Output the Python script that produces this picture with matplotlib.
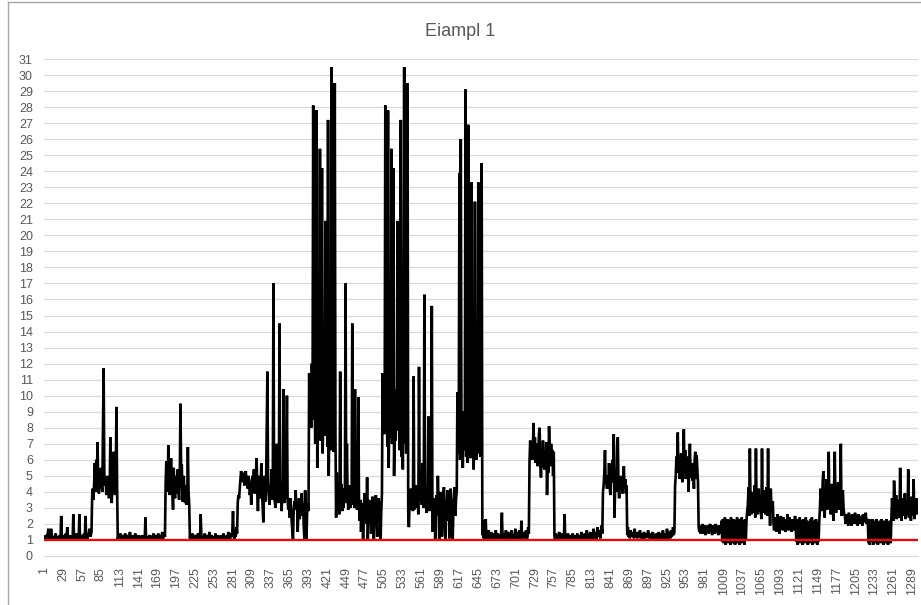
import numpy as np
import matplotlib
matplotlib.use('Agg')
import matplotlib.pyplot as plt
from matplotlib.lines import Line2D

plt.rcParams['font.family'] = ['Liberation Sans', 'DejaVu Sans']

# values, segment by segment (index 1 .. 1296)
low1 = [1.1, 1.0, 1.3, 1.2, 1.0, 1.4, 1.7, 1.1, 1.0, 1.2, 1.7, 1.3, 1.0, 1.1, 1.2, 1.0, 1.3, 1.4, 1.1, 1.0,
        1.2, 1.1, 1.0, 1.3, 1.1, 2.5, 1.2, 1.0, 1.1, 1.3, 1.0, 1.2, 1.4, 1.1, 1.8, 1.2, 1.0, 1.1, 1.3, 1.0,
        1.2, 1.1, 1.0, 2.6, 1.3, 1.1, 1.0, 1.2, 1.4, 1.1, 1.0, 1.2, 2.6, 1.1, 1.0, 1.3, 1.2, 1.0, 1.1, 1.4,
        1.0, 2.5, 1.2, 1.0, 1.1, 1.3, 1.4, 1.7, 1.2, 1.3, 1.5]
hump1 = [3.8, 4.2, 3.5, 4.6, 5.8, 4.0, 6.0, 5.0, 7.1, 4.3, 3.9, 4.8, 4.2, 5.5, 4.5, 4.0, 8.0, 11.7, 5.2, 4.4,
         4.8, 3.8, 4.6, 5.0, 4.2, 3.6, 4.4, 7.4, 5.0, 3.3, 4.6, 5.5, 6.5, 4.4, 3.8, 5.0, 9.3, 4.2]
low2 = [1.0, 1.3, 1.2, 1.1, 1.4, 1.0, 1.2, 1.3, 1.1, 1.0, 1.2, 1.4, 1.1, 1.0, 1.3, 1.2, 1.0, 1.1, 1.5, 1.2,
        1.0, 1.1, 1.3, 1.0, 1.2, 1.1, 1.4, 1.0, 1.1, 1.2, 1.0, 1.3, 1.1, 1.0, 1.2, 1.1, 1.3, 1.0, 1.1, 1.2,
        1.0, 2.4, 1.1, 1.0, 1.2, 1.1, 1.0, 1.3, 1.2, 1.0, 1.1, 1.0, 1.2, 1.4, 1.1, 1.0, 1.2, 1.3, 1.0, 1.1,
        1.4, 1.2, 1.0, 1.3, 1.1, 1.2, 1.5, 1.0, 1.3, 1.4, 1.2]
hump2 = [4.5, 5.9, 4.8, 4.0, 6.9, 5.0, 3.8, 4.4, 6.1, 4.6, 4.0, 2.9, 5.5, 4.2, 3.6, 5.0, 4.5, 3.9, 5.4, 4.0,
         3.5, 4.8, 9.5, 5.2, 5.7, 3.4, 4.6, 5.0, 3.6, 3.3, 4.4, 3.2, 3.5, 6.8, 4.0, 3.2]
low3 = [1.1, 1.3, 1.0, 1.2, 1.4, 1.1, 1.0, 1.3, 1.2, 1.1, 1.0, 1.2, 1.4, 1.1, 1.2, 1.0, 2.6, 1.3, 1.1, 1.0,
        1.2, 1.1, 1.4, 1.0, 1.2, 1.3, 1.1, 1.0, 1.2, 1.5, 1.1, 1.0, 1.3, 1.2, 1.1, 1.0, 1.2, 1.1, 1.4, 1.0,
        1.2, 1.1, 1.3, 1.0, 1.2, 1.1, 1.0, 1.3, 1.1, 1.2, 1.4, 1.0, 1.1, 1.2, 1.0, 1.3, 1.1, 1.5, 1.2, 1.0,
        1.1, 1.4, 1.2, 1.6, 2.8, 1.2, 1.0, 1.3, 1.2, 1.8, 1.4]
hump3 = [3.3, 3.8, 3.6, 4.2, 4.8, 5.3, 4.9, 5.2, 4.6, 5.1, 4.4, 5.0, 5.3, 4.5, 4.9, 4.2, 5.0, 4.6, 3.8, 4.4,
         3.2, 4.7, 5.0, 4.1, 5.4, 3.9, 4.8, 5.2, 6.1, 4.0, 2.8, 4.5, 5.0, 3.6, 4.4, 5.8, 4.0, 3.1, 2.1, 3.8,
         5.0, 3.4, 4.2, 7.9, 11.5, 4.8, 3.8, 3.2, 4.3, 3.6, 5.4, 3.5, 4.0, 17.0, 3.6, 3.4, 3.0, 4.2, 7.0, 3.8,
         3.3, 4.0, 14.5, 3.5, 4.4, 2.8, 3.6, 4.8, 10.4, 3.3, 5.0, 3.6, 4.5, 10.0, 3.5, 2.9, 3.4, 2.4, 3.6, 3.0,
         2.2, 1.6, 1.0, 2.8, 3.4, 3.1, 4.1, 2.9, 3.3, 1.5, 2.7, 3.6, 2.3, 3.2, 3.0, 3.9, 2.5, 3.3, 1.8, 1.0,
         4.1, 2.4, 1.0, 2.7, 3.3, 2.8]
cluster1 = [11.4, 8.6, 9.5, 8.0, 12.0, 9.0, 28.1, 8.5, 10.2, 7.0, 11.5, 27.8, 5.5, 8.8, 9.6, 7.8, 25.4, 7.2,
            10.0, 24.2, 6.4, 9.0, 11.0, 7.5, 20.9, 8.0, 9.8, 6.8, 27.2, 5.0, 8.5, 9.2, 6.6, 30.5, 7.0, 10.5,
            6.5, 8.2, 29.5, 7.6]
post1 = [2.4, 5.2, 3.0, 4.0, 3.2, 2.6, 11.5, 3.4, 4.5, 2.8, 3.6, 3.0, 4.2, 3.4, 17.0, 3.3, 7.0, 3.8, 2.9, 4.4,
         3.5, 3.0, 4.1, 3.6, 14.5, 3.2, 4.6, 3.0, 10.4, 3.8, 3.4, 2.9, 4.2, 9.9, 3.0, 2.2, 3.5, 1.5, 2.8, 3.3,
         1.0, 2.6, 3.9, 2.4, 3.1, 2.0, 4.9, 1.0, 2.5, 3.5, 2.2, 3.3, 1.4, 2.9, 3.7, 2.5, 1.0, 3.2, 2.6, 3.8,
         2.3, 1.2, 3.0, 3.6, 2.2, 3.4, 1.0, 2.8, 3.9]
cluster2 = [11.4, 8.4, 9.8, 7.6, 28.1, 8.5, 10.0, 6.8, 27.8, 5.5, 9.2, 7.4, 10.6, 25.4, 7.0, 9.0, 24.2, 5.0,
            8.6, 7.2, 10.4, 7.8, 20.9, 8.0, 9.4, 6.6, 10.8, 27.2, 6.2, 8.8, 5.4, 9.6, 30.5, 7.0, 10.2, 6.4,
            8.4, 29.5]
post2 = [2.6, 1.8, 3.4, 2.9, 4.2, 3.0, 3.6, 2.8, 11.2, 2.9, 3.8, 3.2, 4.4, 3.0, 3.5, 2.6, 11.8, 4.0, 3.4, 4.6,
         3.2, 5.8, 4.2, 3.0, 16.3, 3.5, 4.0, 2.7, 3.6, 4.4, 8.7, 3.2, 2.8, 3.9, 4.5, 15.6, 1.5, 3.0, 2.4, 3.6,
         1.0, 2.8, 3.8, 2.5, 5.0, 3.2, 1.0, 2.6, 4.0, 3.3, 1.2, 2.7, 3.6, 4.3, 2.4, 1.0, 3.4, 2.9, 4.1, 2.2,
         3.7, 1.1, 3.0, 4.2, 2.6, 3.5, 1.0, 2.8, 3.9, 4.3, 2.5, 3.6, 4.0]
cluster3 = [10.2, 6.4, 8.0, 23.9, 6.0, 26.0, 7.2, 8.8, 5.5, 9.0, 6.6, 7.8, 29.1, 6.2, 8.4, 5.8, 26.9, 7.0,
            9.6, 6.1, 8.2, 23.3, 6.8, 8.9, 5.4, 7.0, 22.1, 7.5, 6.0, 9.2, 6.4, 23.3, 7.4, 9.8, 6.2, 13.0, 24.5]
low4 = [1.3, 2.2, 1.1, 1.5, 1.0, 2.3, 1.2, 1.4, 1.1, 1.6, 1.0, 1.3, 1.2, 1.5, 1.1, 1.0, 1.4, 1.2, 1.3, 1.1,
        1.6, 1.0, 1.2, 1.4, 1.1, 1.3, 1.0, 1.2, 1.5, 2.7, 1.1, 1.3, 1.0, 1.4, 1.2, 1.6, 1.1, 1.0, 1.5, 1.3,
        1.2, 1.4, 1.0, 1.6, 1.1, 1.3, 1.2, 1.0, 1.4, 1.7, 1.1, 1.2, 1.5, 1.0, 1.3, 1.6, 1.2, 1.1, 2.2, 1.0,
        1.4, 1.2, 1.5, 1.1, 1.3, 1.6, 1.0, 1.2, 1.8, 1.4]
hump4 = [5.9, 7.2, 6.4, 7.0, 6.0, 6.8, 8.3, 6.2, 7.4, 5.8, 6.5, 7.0, 5.6, 6.4, 7.6, 8.0, 5.9, 4.9, 6.6, 5.5,
         7.2, 6.0, 5.4, 6.3, 5.8, 7.1, 3.8, 6.0, 5.2, 8.1, 6.4, 5.6, 7.0, 6.2, 6.6, 5.0, 6.5]
low5 = [1.2, 1.0, 1.4, 1.1, 1.3, 1.0, 1.2, 1.5, 1.1, 1.3, 1.0, 1.2, 1.4, 1.1, 1.0, 2.6, 1.2, 1.3, 1.1, 1.0,
        1.4, 1.2, 1.1, 1.3, 1.0, 1.2, 1.1, 1.4, 1.0, 1.3, 1.2, 1.1, 1.0, 1.2, 1.4, 1.1, 1.3, 1.0, 1.2, 1.1,
        1.5, 1.0, 1.3, 1.2, 1.1, 1.4, 1.0, 1.2, 1.6, 1.1, 1.3, 1.0, 1.2, 1.5, 1.1, 1.4, 1.0, 1.3, 1.7, 1.2,
        1.1, 1.5, 1.0, 1.4, 1.8, 1.2, 1.3, 1.6, 1.1, 1.5, 1.9, 1.4]
hump5 = [4.0, 4.4, 5.2, 6.6, 4.5, 4.8, 4.2, 5.0, 4.4, 5.8, 4.3, 3.8, 4.9, 5.2, 6.0, 4.6, 7.6, 2.4, 4.1, 5.4,
         4.0, 6.8, 7.4, 4.5, 3.6, 4.8, 4.2, 5.0, 4.4, 3.9, 4.6, 5.6, 4.2, 4.8, 3.9, 4.4]
low6 = [1.3, 1.8, 1.2, 1.5, 1.1, 1.6, 1.3, 1.4, 1.2, 1.5, 1.1, 1.7, 1.3, 1.2, 1.4, 1.1, 1.5, 1.2, 1.3, 1.6,
        1.1, 1.4, 1.2, 1.0, 1.3, 1.5, 1.2, 1.1, 1.4, 1.3, 1.2, 1.6, 1.1, 1.3, 1.2, 1.4, 1.0, 1.2, 1.5, 1.1,
        1.3, 1.2, 1.0, 1.4, 1.2, 1.3, 1.1, 1.5, 1.0, 1.2, 1.4, 1.1, 1.3, 1.6, 1.2, 1.0, 1.4, 1.3, 1.1, 1.7,
        1.2, 1.0, 1.5, 1.3, 1.1, 1.6, 1.2, 1.4, 1.8, 1.3, 1.5]
hump6 = [4.4, 5.0, 6.2, 5.4, 7.7, 5.2, 6.0, 4.8, 5.5, 6.4, 5.0, 4.6, 5.8, 7.9, 5.2, 6.6, 4.8, 5.6, 5.0, 6.2,
         4.0, 5.4, 7.0, 5.1, 4.9, 5.8, 4.7, 5.3, 4.2, 6.0, 6.5, 4.8, 6.3, 5.5, 4.6]
mid1 = [1.8, 1.5, 1.9, 1.4, 1.8, 1.6, 2.0, 1.4, 1.7, 1.9, 1.3, 1.8, 1.5, 1.9, 1.6, 1.4, 1.8, 2.0, 1.5, 1.7,
        1.3, 1.9, 1.6, 1.8, 1.4, 2.0, 1.5, 1.7, 1.9, 1.3, 1.8, 1.6, 1.9, 1.4]
osc1 = [2.2, 0.9, 2.3, 0.8, 1.9, 2.4, 0.7, 2.1, 1.0, 2.3, 0.8, 2.2, 2.0, 0.7, 2.4, 0.9, 2.1, 0.8, 2.3, 1.9,
        0.7, 2.2, 1.0, 2.4, 0.8, 2.0, 2.3, 0.7, 2.1, 0.9, 2.4, 0.8, 2.2, 1.9, 0.7, 2.3, 1.0, 2.2]
hump7 = [2.8, 3.2, 4.3, 2.5, 6.7, 3.0, 2.6, 4.0, 3.3, 2.7, 3.1, 4.4, 2.4, 6.7, 2.9, 3.4, 2.6, 4.2, 3.0, 2.8,
         3.5, 2.3, 6.7, 3.1, 2.7, 4.1, 3.2, 2.6, 3.0, 4.3, 2.5, 6.7, 2.8, 3.3, 1.9, 4.2, 3.0, 2.7, 3.4]
mid2 = [2.1, 1.6, 2.4, 1.8, 2.2, 1.5, 2.6, 1.9, 2.3, 1.4, 2.0, 2.5, 1.7, 2.2, 1.6, 2.4, 1.9, 2.1, 1.5, 2.3,
        1.8, 2.6, 1.6, 2.0, 2.4, 1.7, 2.2, 1.5, 2.3, 1.9, 2.1, 1.6, 2.5, 1.8]
osc2 = [0.9, 2.3, 0.7, 2.1, 1.0, 2.4, 0.8, 2.2, 1.9, 0.7, 2.3, 0.9, 2.0, 0.8, 2.4, 1.0, 2.2, 0.7, 2.1, 1.8,
        0.8, 2.3, 0.9, 2.4, 0.7, 2.0, 1.0, 2.2, 0.8, 2.3, 1.9, 0.7, 2.1, 0.9, 2.2]
hump8 = [3.0, 4.2, 3.5, 2.8, 4.6, 5.3, 3.2, 2.4, 4.0, 3.6, 4.8, 2.9, 3.4, 6.5, 3.0, 4.4, 2.6, 3.8, 4.5, 3.1,
         2.2, 4.2, 6.5, 3.3, 2.7, 4.0, 3.5, 4.6, 2.9, 3.2, 4.3, 7.0, 2.5, 3.6, 4.1, 3.0, 2.6]
mid3 = [2.5, 2.0, 2.6, 2.2, 2.4, 1.9, 2.7, 2.1, 2.5, 2.3, 1.9, 2.6, 2.2, 2.4, 2.0, 2.7, 2.3, 2.1, 2.5, 1.9,
        2.6, 2.2, 2.4, 2.0, 2.5, 2.3, 1.9, 2.6, 2.1, 2.4, 2.2, 2.7, 2.0, 2.3]
osc3 = [2.2, 0.8, 2.3, 0.7, 1.9, 2.1, 0.9, 2.3, 0.7, 2.0, 1.0, 2.2, 0.8, 2.3, 1.8, 0.7, 2.1, 0.9, 2.2, 0.8,
        2.3, 1.0, 1.9, 0.7, 2.2, 0.9, 2.1, 0.8, 2.3, 1.9, 0.7, 2.0, 1.0, 2.2, 0.8]
hump9 = [2.4, 3.6, 3.0, 2.2, 4.7, 3.4, 2.6, 3.8, 2.3, 3.1, 2.9, 3.5, 2.4, 5.5, 3.0, 2.2, 3.6, 2.7, 3.3, 2.5,
         3.9, 2.3, 3.2, 3.0, 2.6, 5.4, 2.4, 3.5, 2.9, 2.2, 3.7, 3.1, 2.5, 4.8, 2.3, 3.4, 2.8, 3.6, 2.6, 3.3]

threshold = 1.0
title = 'Eiampl 1'

series = np.array(low1 + hump1 + low2 + hump2 + low3 + hump3 + cluster1 + post1 + cluster2 + post2
                  + cluster3 + low4 + hump4 + low5 + hump5 + low6 + hump6 + mid1 + osc1 + hump7
                  + mid2 + osc2 + hump8 + mid3 + osc3 + hump9)
n = len(series)
x = np.arange(1, n + 1)

fig = plt.figure(figsize=(9.21, 6.05), dpi=100)
ax = fig.add_axes([44 / 921, 49 / 605, 874 / 921, 497 / 605])

ax.plot(x, series, color='black', lw=1.9, solid_joinstyle='miter', zorder=3)
ax.plot(x, np.full(n, threshold), color='#FF0000', lw=1.6, zorder=4)

ax.set_xlim(0.5, n + 0.5)
ax.set_ylim(0, 31)
ax.set_yticks(range(0, 32))
ax.set_xticks(range(1, n + 1, 28))
ax.set_xticklabels([str(v) for v in range(1, n + 1, 28)], rotation=90)
ax.tick_params(axis='both', length=0, labelsize=9, colors='#595959')
ax.tick_params(axis='y', pad=8)
ax.tick_params(axis='x', pad=8)
ax.grid(axis='y', color='#D9D9D9', lw=0.9, zorder=0)
for s in ['top', 'right', 'left']:
    ax.spines[s].set_visible(False)
ax.spines['bottom'].set_color('#D9D9D9')

fig.text(0.5, 0.948, title, ha='center', va='center', fontsize=13, color='#595959')

# chart frame
fig.add_artist(Line2D([8 / 921, 8 / 921], [0, 1 - 2 / 605], transform=fig.transFigure, color='#A6A6A6', lw=1))
fig.add_artist(Line2D([8 / 921, 1], [1 - 2 / 605, 1 - 2 / 605], transform=fig.transFigure, color='#A6A6A6', lw=1))

fig.savefig('out.png', dpi=100)
